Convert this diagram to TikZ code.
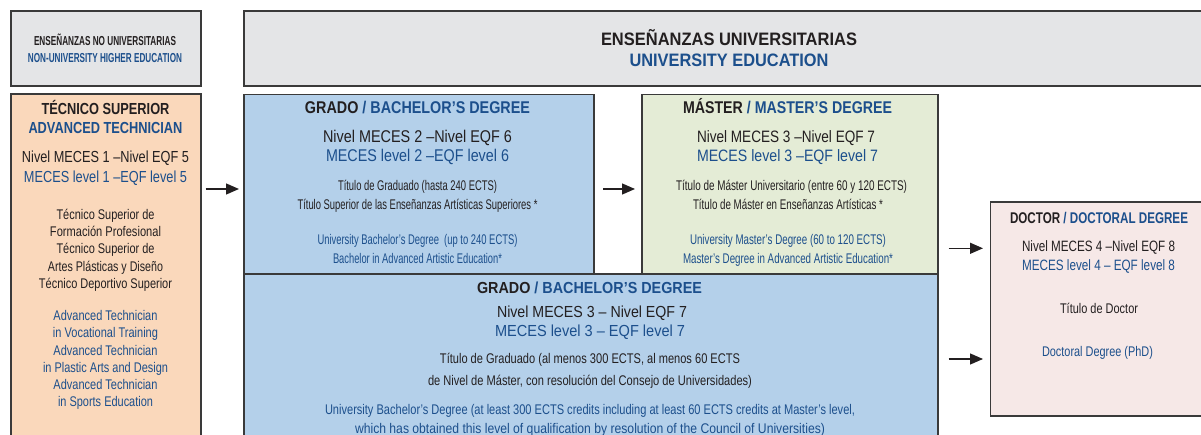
\documentclass[tikz,border=0pt]{standalone}
\usepackage{fontspec}
\setmainfont{Liberation Sans}
\usepackage{graphicx}
\usetikzlibrary{arrows.meta}
\definecolor{ink}{HTML}{231F20}
\definecolor{navy}{HTML}{1C4F8C}
\definecolor{bord}{HTML}{3A3A3A}
\definecolor{hdrgray}{HTML}{E4E5E7}
\definecolor{peach}{HTML}{FAD8BB}
\definecolor{gblue}{HTML}{B4D0EA}
\definecolor{mgreen}{HTML}{E4ECD6}
\definecolor{dpink}{HTML}{F6E8E7}
\newcommand\rs[2]{\resizebox{#1pt}{\height}{#2}}
\newcommand\fs[1]{\fontsize{#1}{#1}\selectfont}
\newcommand\ap{\char"0027\relax}
\tikzset{
  box/.style={draw=bord, line width=1.6pt, inner sep=0pt, anchor=north west},
  txt/.style={anchor=base, inner sep=0pt, text=ink},
  blu/.style={txt, text=navy},
  arr/.style={-{Triangle[length=13pt,width=11pt]}, line width=1.3pt, draw=ink},
}
\begin{document}
\begin{tikzpicture}[x=1pt,y=-1pt]
\useasboundingbox (0,0) rectangle (1201,435);
\clip (0,0) rectangle (1201,435);
% boxes
\node[box, fill=hdrgray, minimum width=190pt, minimum height=75pt] (hl) at (10,10) {};
\node[box, fill=hdrgray, minimum width=1000pt, minimum height=75pt] (hr) at (243,10) {};
\node[box, fill=peach, minimum width=190pt, minimum height=360pt] (tec) at (10,93.5) {};
\node[box, fill=gblue, minimum width=694pt, minimum height=180pt] (g2) at (243,273.3) {};
\node[box, fill=gblue, minimum width=350pt, minimum height=179.5pt] (g1) at (243,93.8) {};
\node[box, fill=mgreen, minimum width=296pt, minimum height=179.5pt] (ms) at (641,93.8) {};
\node[box, fill=dpink, minimum width=300pt, minimum height=214pt] (dr) at (989.5,201) {};
% arrows
\draw[arr, shorten <=4pt, shorten >=4pt] (tec.east |- 0,189) -- (g1.west |- 0,189);
\draw[arr, shorten <=8.5pt, shorten >=6pt] (g1.east |- 0,189) -- (ms.west |- 0,189);
\draw[arr, shorten <=10pt, shorten >=6.5pt] (ms.east |- 0,248.3) -- (dr.west |- 0,248.3);
\draw[arr, shorten <=10pt, shorten >=6.5pt] (g2.east |- 0,359) -- (dr.west |- 0,359);
% header left
\node[txt, font=\bfseries\fs{13}] (hl1) at (105,45.5) {\rs{142}{ENSEÑANZAS NO UNIVERSITARIAS}};
\node[blu, font=\bfseries\fs{13}] (hl2) at (105,62.5) {\rs{154}{NON-UNIVERSITY HIGHER EDUCATION}};
% header right
\node[txt, font=\bfseries\fs{18}] (hr1) at (729,45.5) {\rs{256}{ENSEÑANZAS UNIVERSITARIAS}};
\node[blu, font=\bfseries\fs{18}] (hr2) at (729,66.5) {\rs{199}{UNIVERSITY EDUCATION}};
% tecnico
\node[txt, font=\bfseries\fs{16}] (t1) at (105.5,114.3) {\rs{128}{TÉCNICO SUPERIOR}};
\node[blu, font=\bfseries\fs{16}] (t2) at (105.5,134) {\rs{154}{ADVANCED TECHNICIAN}};
\node[txt, font=\fs{16}] (t3) at (105.5,162.7) {\rs{167}{Nivel MECES 1 –Nivel EQF 5}};
\node[blu, font=\fs{16}] (t4) at (105.5,182.7) {\rs{163}{MECES level 1 –EQF level 5}};
\node[txt, font=\fs{14}] (t5) at (105.5,220) {\rs{98}{Técnico Superior de}};
\node[txt, font=\fs{14}] (t6) at (105.5,236.7) {\rs{111}{Formación Profesional}};
\node[txt, font=\fs{14}] (t7) at (105.5,254) {\rs{98}{Técnico Superior de}};
\node[txt, font=\fs{14}] (t8) at (105.5,271.7) {\rs{115}{Artes Plásticas y Diseño}};
\node[txt, font=\fs{14}] (t9) at (105.5,289) {\rs{133}{Técnico Deportivo Superior}};
\node[blu, font=\fs{14}] (t10) at (105.5,320) {\rs{104}{Advanced Technician}};
\node[blu, font=\fs{14}] (t11) at (105.5,337.3) {\rs{105}{in Vocational Training}};
\node[blu, font=\fs{14}] (t12) at (105.5,355) {\rs{104}{Advanced Technician}};
\node[blu, font=\fs{14}] (t13) at (105.5,372.7) {\rs{125}{in Plastic Arts and Design}};
\node[blu, font=\fs{14}] (t14) at (105.5,389.3) {\rs{104}{Advanced Technician}};
\node[blu, font=\fs{14}] (t15) at (105.5,406.7) {\rs{95}{in Sports Education}};
% grado 1
\node[txt, font=\bfseries\fs{17}] (a1) at (417.5,114) {\rs{225}{GRADO \textcolor{navy}{/ BACHELOR\ap S DEGREE}}};
\node[txt, font=\fs{17}] (a2) at (417.5,142.3) {\rs{189}{Nivel MECES 2 –Nivel EQF 6}};
\node[blu, font=\fs{17}] (a3) at (417.5,161.7) {\rs{183}{MECES level 2 –EQF level 6}};
\node[txt, font=\fs{14}] (a4) at (417.5,191) {\rs{159}{Título de Graduado (hasta 240 ECTS)}};
\node[txt, font=\fs{14}] (a5) at (417.5,210) {\rs{240}{Título Superior de las Enseñanzas Artísticas Superiores *}};
\node[blu, font=\fs{14}] (a6) at (417.5,245) {\rs{200}{University Bachelor\ap s Degree\ \ (up to 240 ECTS)}};
\node[blu, font=\fs{14}] (a7) at (417.5,264) {\rs{169}{Bachelor in Advanced Artistic Education*}};
% master
\node[txt, font=\bfseries\fs{17}] (m1) at (787.5,114) {\rs{209}{MÁSTER \textcolor{navy}{/ MASTER\ap S DEGREE}}};
\node[txt, font=\fs{16.5}] (m2) at (786,142.7) {\rs{178}{Nivel MECES 3 –Nivel EQF 7}};
\node[blu, font=\fs{16.5}] (m3) at (787.5,161.7) {\rs{181}{MECES level 3 –EQF level 7}};
\node[txt, font=\fs{14}] (m4) at (791.5,191) {\rs{231}{Título de Máster Universitario (entre 60 y 120 ECTS)}};
\node[txt, font=\fs{14}] (m5) at (788,209.3) {\rs{190}{Título de Máster en Enseñanzas Artísticas *}};
\node[blu, font=\fs{14}] (m6) at (788,245) {\rs{196}{University Master\ap s Degree (60 to 120 ECTS)}};
\node[blu, font=\fs{14}] (m7) at (788,264) {\rs{210}{Master\ap s Degree in Advanced Artistic Education*}};
% grado 2
\node[txt, font=\bfseries\fs{16}] (b1) at (589.5,294) {\rs{225}{GRADO \textcolor{navy}{/ BACHELOR\ap S DEGREE}}};
\node[txt, font=\fs{16}] (b2) at (592,317) {\rs{190}{Nivel MECES 3 – Nivel EQF 7}};
\node[blu, font=\fs{16}] (b3) at (590,337) {\rs{190}{MECES level 3 – EQF level 7}};
\node[txt, font=\fs{14}] (b4) at (590,363) {\rs{300}{Título de Graduado (al menos 300 ECTS, al menos 60 ECTS}};
\node[txt, font=\fs{14}] (b5) at (590,385) {\rs{324}{de Nivel de Máster, con resolución del Consejo de Universidades)}};
\node[blu, font=\fs{14}] (b6) at (590,414) {\rs{530}{University Bachelor\ap s Degree (at least 300 ECTS credits including at least 60 ECTS credits at Master\ap s level,}};
\node[blu, font=\fs{14}] (b7) at (590,433) {\rs{470}{which has obtained this level of qualification by resolution of the Council of Universities)}};
% doctor
\node[txt, font=\bfseries\fs{15.5}] (d1) at (1099,223.3) {\rs{178}{DOCTOR \textcolor{navy}{/ DOCTORAL DEGREE}}};
\node[txt, font=\fs{15}] (d2) at (1098.5,251.7) {\rs{153}{Nivel MECES 4 –Nivel EQF 8}};
\node[blu, font=\fs{15}] (d3) at (1098.5,271) {\rs{153}{MECES level 4 – EQF level 8}};
\node[txt, font=\fs{14}] (d4) at (1099,313.3) {\rs{78}{Título de Doctor}};
\node[blu, font=\fs{14}] (d5) at (1097.5,356.3) {\rs{111}{Doctoral Degree (PhD)}};
\end{tikzpicture}
\end{document}
